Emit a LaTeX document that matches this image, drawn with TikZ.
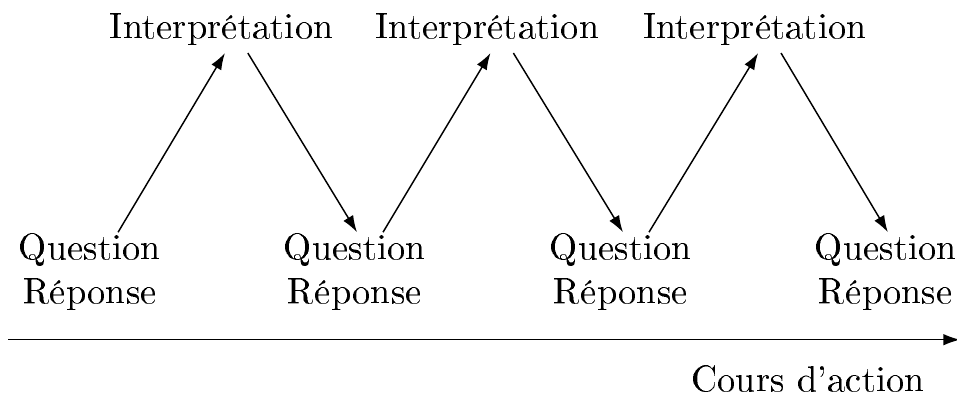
\documentclass[tikz,border=0pt]{standalone}
\usepackage[T1]{fontenc}
\usetikzlibrary{arrows.meta}

\tikzset{
	qr/.style={align=center},
	fleche/.style={-{Latex[length=1.6mm,width=1.1mm]}},
}

\begin{document}
\begin{tikzpicture}
		\useasboundingbox (0,0) rectangle (9.19,3.80);

		\node[qr] (q1) at (0.864,1.18) {Question\\Réponse};
		\node[qr] (q2) at (3.408,1.18) {Question\\Réponse};
		\node[qr] (q3) at (5.962,1.18) {Question\\Réponse};
		\node[qr] (q4) at (8.506,1.18) {Question\\Réponse};

		\node (i1) at (2.13,3.52) {Interprétation};
		\node (i2) at (4.68,3.52) {Interprétation};
		\node (i3) at (7.25,3.52) {Interprétation};

		\foreach \a/\b/\c in {1/1/2, 2/2/3, 3/3/4} {
			\draw[fleche] ([xshift=2.7mm,yshift=-1mm]q\a.north) -- ([xshift=0.3mm,yshift=0.5mm]i\b.south);
			\draw[fleche] ([xshift=2.5mm,yshift=0.5mm]i\b.south) -- ([xshift=0.2mm,yshift=-1mm]q\c.north);
		}

		\coordinate (debut) at (0.08,0.538);
		\coordinate (fin) at (9.22,0.538);
		\draw[fleche] (debut) -- (fin);

		\node (cours) at (7.76,0.16) {Cours d'action};
\end{tikzpicture}
\end{document}
